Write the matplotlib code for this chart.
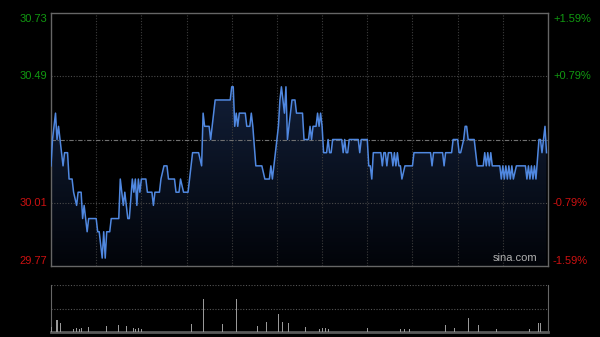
import numpy as np
import matplotlib.pyplot as plt
from matplotlib.colors import LinearSegmentedColormap
from matplotlib.patches import Polygon
from matplotlib.transforms import blended_transform_factory, offset_copy

plt.rcParams['font.family'] = ['Liberation Sans', 'DejaVu Sans']

prev_close = 30.25
price_ticks = [30.73, 30.49, 30.25, 30.01, 29.77]
price_labels = ['30.73', '30.49', '', '30.01', '29.77']
pct_labels = ['+1.59%', '+0.79%', '', '-0.79%', '-1.59%']

# minute index from the open (0..330) and price at that minute
minutes = [0, 1, 3, 4, 5, 6, 8, 9, 11, 12, 14, 15, 17, 18, 20, 21, 22, 24, 25, 30,
           31, 32, 34, 35, 36, 37, 39, 40, 45, 46, 48, 49, 50, 51, 52, 54, 55, 56, 57, 58,
           59, 60, 63, 64, 67, 68, 69, 72, 73, 75, 77, 78, 82, 83, 85, 86, 88, 91, 92, 94,
           98, 100, 101, 102, 105, 106, 107, 109, 119, 120, 121, 122, 123, 124, 125, 129, 130, 132, 133, 134,
           136, 140, 142, 145, 146, 147, 148, 150, 151, 152, 153, 155, 156, 157, 160, 162, 163, 167, 168, 171,
           172, 173, 174, 176, 177, 178, 179, 180, 181, 183, 184, 185, 186, 187, 193, 194, 195, 196, 197, 198,
           204, 205, 206, 210, 211, 212, 213, 214, 218, 219, 220, 221, 222, 223, 224, 226, 227, 228, 229, 230,
           231, 232, 233, 235, 240, 241, 252, 253, 254, 260, 261, 262, 266, 267, 270, 271, 272, 274, 275, 276,
           277, 281, 283, 287, 288, 289, 290, 291, 292, 293, 298, 299, 300, 301, 302, 303, 304, 305, 306, 307,
           309, 315, 316, 317, 318, 319, 320, 321, 322, 324, 325, 326, 327, 328, 329]
prices = [30.15, 30.25, 30.35, 30.25, 30.30, 30.25, 30.15, 30.20, 30.20, 30.10, 30.10, 30.05, 30.00, 30.05, 30.05, 29.95, 30.00, 29.90, 29.95, 29.95,
          29.90, 29.90, 29.80, 29.90, 29.80, 29.90, 29.90, 29.95, 29.95, 30.10, 30.00, 30.05, 30.00, 29.95, 29.95, 30.10, 30.05, 30.10, 30.00, 30.10,
          30.05, 30.10, 30.10, 30.05, 30.05, 30.00, 30.05, 30.05, 30.10, 30.15, 30.15, 30.10, 30.10, 30.05, 30.05, 30.10, 30.05, 30.05, 30.10, 30.20,
          30.20, 30.15, 30.35, 30.30, 30.30, 30.25, 30.30, 30.40, 30.40, 30.45, 30.45, 30.30, 30.35, 30.30, 30.35, 30.35, 30.30, 30.30, 30.35, 30.30,
          30.15, 30.15, 30.10, 30.10, 30.15, 30.10, 30.15, 30.25, 30.30, 30.40, 30.45, 30.35, 30.45, 30.25, 30.40, 30.40, 30.35, 30.35, 30.25, 30.25,
          30.30, 30.25, 30.30, 30.30, 30.35, 30.30, 30.35, 30.30, 30.20, 30.20, 30.25, 30.20, 30.20, 30.25, 30.25, 30.20, 30.25, 30.20, 30.20, 30.25,
          30.25, 30.20, 30.25, 30.25, 30.15, 30.15, 30.10, 30.20, 30.20, 30.20, 30.15, 30.20, 30.20, 30.15, 30.20, 30.20, 30.15, 30.20, 30.15, 30.20,
          30.15, 30.15, 30.10, 30.15, 30.15, 30.20, 30.20, 30.15, 30.20, 30.20, 30.15, 30.20, 30.20, 30.25, 30.25, 30.20, 30.20, 30.25, 30.30, 30.30,
          30.25, 30.25, 30.15, 30.15, 30.20, 30.15, 30.20, 30.15, 30.20, 30.15, 30.15, 30.10, 30.15, 30.10, 30.15, 30.10, 30.15, 30.10, 30.15, 30.10,
          30.15, 30.15, 30.10, 30.15, 30.10, 30.15, 30.10, 30.15, 30.10, 30.25, 30.25, 30.20, 30.25, 30.30, 30.20]

vol_minutes = [0, 4, 6, 15, 17, 19, 20, 25, 37, 45, 50, 55, 56, 58, 60, 93, 101, 114, 123, 137,
               143, 151, 154, 158, 169, 178, 180, 182, 184, 210, 232, 235, 238, 262, 268, 277, 284, 296, 318, 324,
               325]
volumes = [11, 26, 19, 6, 8, 6, 9, 11, 13, 15, 13, 8, 6, 9, 6, 17, 70, 17, 70, 13,
           21, 38, 21, 19, 11, 6, 8, 9, 6, 9, 6, 6, 6, 15, 9, 30, 15, 6, 6, 19,
           19]

fig = plt.figure(figsize=(6, 3.37), dpi=100, facecolor='black')
ax = fig.add_axes([51 / 600, 71 / 337, 497 / 600, 253 / 337], facecolor='black')
axv = fig.add_axes([51 / 600, 5 / 337, 497 / 600, 47 / 337], facecolor='black')

lo, hi = price_ticks[-1], price_ticks[0]
ax.set_xlim(0, 330)
ax.set_ylim(lo, hi)

# gradient fill under the price line
cmap = LinearSegmentedColormap.from_list('fade', ['#020409', '#18294a'])
grad = np.linspace(1, 0, 256).reshape(-1, 1)
im = ax.imshow(grad, extent=[0, 330, lo, hi], aspect='auto', cmap=cmap, origin='upper', zorder=1)
verts = np.column_stack([np.r_[minutes, minutes[-1], minutes[0]], np.r_[prices, lo, lo]])
clip = Polygon(verts, closed=True, transform=ax.transData, facecolor='none', edgecolor='none')
ax.add_patch(clip)
im.set_clip_path(clip)

ax.plot(minutes, prices, color='#5088e0', lw=1.1, zorder=3)

# grid
for x in range(30, 330, 30):
    ax.axvline(x, color='#3c3c3c', lw=0.8, linestyle=(0, (1, 1.5)), zorder=2)
for p in [30.49, 30.01]:
    ax.axhline(p, color='#4a4a4a', lw=0.8, linestyle=(0, (1, 1.5)), zorder=2)
ax.axhline(prev_close, color='#707070', lw=0.8, linestyle=(0, (4, 1.5, 1, 1.5)), zorder=2)

ax.set_xticks([])
ax.set_yticks([])
for s in ax.spines.values():
    s.set_color('#666666')
    s.set_linewidth(1.0)

tr = blended_transform_factory(ax.transAxes, ax.transData)
for i, (p, lab, pct) in enumerate(zip(price_ticks, price_labels, pct_labels)):
    if not lab:
        continue
    col = '#119911' if p > prev_close else '#cc1111'
    va = 'center'
    t = tr
    if i == 0:
        va = 'top'
        t = offset_copy(tr, fig=fig, y=-1.5, units='dots')
    elif i == len(price_ticks) - 1:
        va = 'bottom'
    ax.text(-0.008, p, lab, transform=t, ha='right', va=va, color=col, fontsize=8)
    ax.text(1.01, p, pct, transform=t, ha='left', va=va, color=col, fontsize=8)

ax.text(0.978, 0.01, 'sina.com', transform=ax.transAxes, ha='right', va='bottom',
        color='#b0b0b0', fontsize=8, zorder=4)

# volume panel
axv.set_xlim(0, 330)
axv.set_ylim(0, 100)
axv.bar(vol_minutes, volumes, width=0.7, color='#999999', zorder=3)
for v in [50, 100]:
    axv.axhline(v, color='#555555', lw=0.8, linestyle=(0, (1, 1.5)), zorder=2)
axv.set_xticks([])
axv.set_yticks([])
axv.spines['top'].set_visible(False)
for k in ['left', 'right']:
    axv.spines[k].set_color('#666666')
axv.spines['bottom'].set_color('#5a5a5a')
axv.spines['bottom'].set_linewidth(2.0)

fig.savefig('out.png', dpi=100, facecolor='black')
